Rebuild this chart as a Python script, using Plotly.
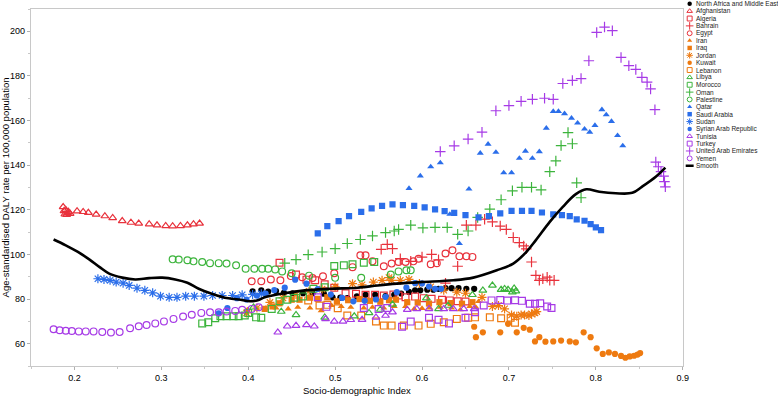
import plotly.graph_objects as go

RED = "#E8323C"
ORANGE = "#EE7A10"
GREEN = "#3CB43C"
BLUE = "#2B6EEA"
PURPLE = "#A63AE6"
BLACK = "#000000"

# ---------------- data ----------------
nam_x = [0.405,0.415,0.423,0.432,0.441,0.451,0.463,0.474,0.487,0.497,0.506,0.514,0.525,0.535,0.546,0.558,0.568,0.576,0.585,0.592,0.598,0.606,0.613,0.619,0.627,0.634,0.642,0.651,0.66]
nam_y = [83.5,83.9,83.4,83.6,82.8,82.6,82.6,82.6,82.4,80.8,80.6,80.4,81.2,81.9,81.9,81.3,81.9,82.5,83.2,83.9,83.9,84.2,84.2,84.6,84.9,84.9,84.9,84.6,84.6]

afg_x = [0.187,0.188,0.189,0.19,0.191,0.192,0.193,0.195,0.203,0.21,0.216,0.225,0.235,0.244,0.255,0.265,0.274,0.286,0.295,0.305,0.313,0.322,0.33,0.337,0.344]
afg_y = [121.3,119.5,118,120,117.8,118.6,119.2,118.3,119.4,119.1,118.7,117.9,117.2,116.4,115,114.3,113.9,113.6,113.1,112.8,112.7,112.8,113.1,113.6,113.9]

alg_x = [0.436,0.455,0.467,0.477,0.488,0.499,0.512,0.524,0.535,0.546,0.556,0.567,0.573,0.581,0.592,0.602,0.611,0.623,0.632,0.641,0.65]
alg_y = [96.3,91,88.7,88.4,86.6,85.1,82.6,82.4,81.9,81.9,81.6,82,81.6,80.8,81.1,80.4,80.1,79.7,79.4,79,78.9]

bhr_x = [0.553,0.56,0.566,0.575,0.587,0.6,0.611,0.619,0.627,0.641,0.651,0.662,0.672,0.681,0.69,0.697,0.705,0.712,0.717,0.72,0.726,0.731,0.735,0.739,0.744,0.747,0.752]
bhr_y = [102.3,104.5,102.6,98.1,96.9,98.8,100,97.6,87.1,94.7,113.1,113.1,115.8,114.6,112.7,111.2,107.6,105.3,103.8,102.5,96.6,90.6,88.4,89.1,89.8,88.4,88.4]

egy_x = [0.404,0.415,0.426,0.437,0.449,0.462,0.474,0.486,0.499,0.52,0.529,0.535,0.543,0.556,0.565,0.573,0.581,0.59,0.596,0.61,0.617,0.627,0.635,0.643,0.651,0.658]
egy_y = [88,88,88.8,88.4,90.3,89.8,89.4,90.2,91.6,94.3,99.6,99.6,96.9,94.7,95.9,96.6,96.6,96.9,98.1,95.6,96.1,100.4,101.9,99.2,99.2,98.9]

irn_x = [0.399,0.41,0.42,0.432,0.446,0.457,0.471,0.484,0.496,0.507,0.518,0.533,0.543,0.556,0.568,0.581,0.591,0.6,0.609,0.621,0.634,0.644,0.655,0.662,0.665]
irn_y = [75.2,75.5,75.8,76,75.6,76.3,76,74.8,77.1,76.7,76.3,76,76.3,76,76.7,76.7,75.6,75.8,76,76.3,76,75.2,76.7,76.3,78.9]

irq_x = [0.419,0.428,0.436,0.45,0.459,0.471,0.48,0.491,0.502,0.515,0.528,0.54,0.552,0.562,0.57,0.583,0.595,0.608,0.62,0.633,0.646,0.658]
irq_y = [75.6,76.7,78.1,79.7,79.7,80.6,80.1,80.8,79,79.5,80,79.2,78.8,79.5,79.7,78.6,78.4,78,78.6,78.2,77.9,78.6]

jor_x = [0.398,0.41,0.425,0.44,0.455,0.47,0.485,0.5,0.52,0.531,0.544,0.554,0.562,0.565,0.575,0.585,0.597,0.61,0.625,0.64,0.65,0.669,0.681,0.688,0.695,0.703,0.709,0.714,0.718,0.723,0.726,0.73,0.732]
jor_y = [73.8,76,78.5,80.5,82,83.5,84.5,85.5,86.9,86.4,87.6,88.4,89.6,88.4,88.4,88.8,87,85.5,84,83.1,82.6,80.8,76.7,77.1,75.6,72.9,72.3,72.9,72.9,72.6,73.4,73.8,74.4]

kwt_x = [0.66,0.662,0.67,0.69,0.699,0.709,0.717,0.724,0.73,0.735,0.742,0.751,0.76,0.77,0.777,0.786,0.794,0.801,0.808,0.815,0.822,0.829,0.834,0.839,0.844,0.848,0.851]
kwt_y = [67.6,62.9,65.1,65.1,68.9,65.1,67.1,66.3,61,62.9,60.9,61,61.4,61,60.6,65.1,62.9,57.9,55.4,56.1,55.4,54.5,53.7,54.3,54.6,55.1,55.8]

lbn_x = [0.469,0.482,0.491,0.503,0.514,0.53,0.547,0.556,0.565,0.579,0.596,0.61,0.625,0.64,0.653,0.661,0.678,0.691,0.702,0.707]
lbn_y = [79.4,77.1,77.4,75.9,72.6,72.6,70,68.1,68.1,68.1,68.1,68.9,69.6,71.1,71.6,71.8,71.8,71.4,71.6,69.4]

lby_x = [0.406,0.438,0.455,0.488,0.522,0.539,0.552,0.566,0.605,0.619,0.63,0.658,0.67,0.681,0.691,0.695,0.699,0.704,0.706,0.708]
lby_y = [76.3,74.4,72.9,71.8,72.3,73.8,75.3,77.6,80.4,75.6,77.1,81.9,83.9,86.1,84.2,84.6,84.2,83.1,84.8,83.5]

mar_x = [0.347,0.354,0.362,0.368,0.375,0.383,0.389,0.396,0.4,0.409,0.415,0.427,0.436,0.445,0.453,0.463,0.475,0.488,0.499,0.51,0.52,0.533,0.545]
mar_y = [69.1,69.6,71.4,72.3,72.3,72.3,72.3,72.6,73.8,71.8,71.6,75.6,79,79.7,80.6,81.2,84.6,85.3,94.8,95.1,95.6,96.3,96.6]

omn_x = [0.442,0.455,0.469,0.485,0.5,0.514,0.529,0.543,0.558,0.568,0.573,0.587,0.601,0.615,0.629,0.641,0.653,0.664,0.678,0.691,0.704,0.715,0.726,0.737,0.747,0.754,0.76,0.768,0.773,0.778,0.783]
omn_y = [96.1,97.7,99.9,101.1,102.6,104.9,106.7,108.3,109.8,110.5,111.2,113.1,111.9,112.1,112.1,109,110.5,116.6,120.3,124.5,128.5,130.1,130.1,128.9,137.1,141.9,148.8,154.6,149.6,132.1,125.4]

pse_x = [0.313,0.32,0.33,0.337,0.347,0.356,0.366,0.375,0.386,0.397,0.407,0.416,0.423,0.431,0.439,0.45,0.47,0.5,0.53,0.564,0.573,0.582,0.587]
pse_y = [97.8,97.7,97.4,96.9,96.6,96.1,96.1,95.9,95.1,93.6,93.6,93.6,93.6,93.3,92.4,91.6,90.5,89.5,89.5,91,92.4,92.9,92.9]

qat_x = [0.585,0.598,0.61,0.621,0.632,0.643,0.654,0.667,0.676,0.685,0.694,0.703,0.712,0.719,0.727,0.735,0.743,0.751,0.757,0.764,0.772,0.779,0.787,0.793,0.799,0.807,0.812,0.818,0.825,0.831]
qat_y = [129.6,135.2,139.3,141.1,118,104.9,129.3,145.4,149.4,145.8,136.6,136.6,143.1,146.3,143.1,146.1,156.6,164.1,164.1,163.1,161.1,158.9,156.2,154.8,157.8,164.9,162.6,159.6,153.3,148.7]

sau_x = [0.48,0.491,0.504,0.516,0.53,0.542,0.554,0.566,0.578,0.591,0.603,0.615,0.626,0.637,0.65,0.665,0.677,0.69,0.703,0.715,0.726,0.738,0.751,0.761,0.77,0.778,0.787,0.794,0.8,0.806]
sau_y = [109.4,112.7,114.9,117.2,119.1,120.6,121.8,122.4,122.1,121.8,121.1,120.2,119.4,118.6,117.6,116.6,117.2,118.4,119.5,119.5,119.5,118.8,118,117.6,117.2,115.7,115.1,113.6,112.1,110.9]

sdn_x = [0.227,0.234,0.241,0.248,0.256,0.263,0.272,0.281,0.29,0.299,0.309,0.318,0.328,0.338,0.349,0.359,0.37,0.382,0.393,0.405,0.415]
sdn_y = [89.1,88.8,88.4,87.6,87.1,86.1,84.9,83.9,82.8,81.3,80.8,80.8,81.3,81.3,81.3,81.6,81.6,81.6,81.9,82.1,82.4]

syr_x = [0.366,0.376,0.387,0.398,0.41,0.42,0.43,0.442,0.454,0.467,0.48,0.495,0.508,0.521,0.534,0.547,0.558,0.571,0.582,0.592,0.6,0.608,0.615,0.622]
syr_y = [73.6,76,80.4,79.8,81.5,82.5,84,85.1,88.7,86.9,84.5,82,80.5,79,79.2,79.8,81,83.1,85.1,87.1,87,85.6,84.6,84.6]

tun_x = [0.434,0.445,0.455,0.467,0.476,0.489,0.499,0.509,0.518,0.531,0.547,0.558,0.566,0.583,0.594,0.608,0.625,0.636,0.648,0.66]
tun_y = [65.1,67.8,68.1,68.4,67.8,71.1,70,70,70.7,70.8,71.8,72.6,74.1,75.2,75.6,75.6,75.6,75.6,75.6,75.6]

tur_x = [0.48,0.49,0.533,0.55,0.56,0.577,0.587,0.608,0.619,0.631,0.65,0.661,0.671,0.68,0.69,0.698,0.707,0.715,0.724,0.73,0.736,0.744,0.749]
tur_y = [80.8,76.5,76,75.5,76,67.6,69.9,71.6,70.7,69.1,71.6,74.1,77.1,79.4,79.6,79.3,79.5,79.2,77.9,77.9,78.1,76.7,76]

are_x = [0.621,0.637,0.653,0.669,0.685,0.7,0.714,0.727,0.741,0.751,0.762,0.773,0.783,0.792,0.801,0.81,0.819,0.829,0.838,0.846,0.853,0.859,0.863,0.868,0.869,0.872,0.875,0.878,0.879,0.88]
are_y = [146.1,148.7,151.7,154.8,164.4,166.7,168.6,169.5,170,169.5,176.6,178,178.8,186.8,199.5,201.9,200.3,188.3,184.6,182.9,179.4,177.2,174.2,164.9,141.4,139.3,137.1,135.1,132.6,130.3]

yem_x = [0.176,0.183,0.19,0.197,0.205,0.213,0.222,0.232,0.242,0.252,0.264,0.274,0.283,0.293,0.303,0.314,0.325,0.335,0.346,0.356,0.366,0.375,0.385,0.393,0.404,0.412]
yem_y = [66.5,66,65.8,65.7,65.5,65.5,65.5,65.2,65,65.2,66.9,67.8,68.4,69.1,70,71.1,72.2,73,73.8,74.1,74.1,74.4,74.7,75.2,75.6,76.3]

smooth_x = [0.176,0.19,0.204,0.217,0.229,0.24,0.255,0.27,0.286,0.301,0.316,0.33,0.343,0.358,0.373,0.389,0.402,0.411,0.419,0.438,0.465,0.495,0.526,0.549,0.571,0.598,0.636,0.659,0.686,0.705,0.72,0.731,0.747,0.762,0.777,0.789,0.804,0.823,0.842,0.853,0.869,0.88]
smooth_y = [106.7,104.1,101.1,97.8,94.3,91.4,89.6,88.8,89.4,89.6,88.8,87.3,84.6,82.4,80.6,79.8,79,79.5,80.8,82.4,83.9,84.6,85.1,86.1,86.9,87.6,88.4,89.6,92.9,95.9,101.1,106.4,114.6,121.3,127,129.2,128.1,127.4,127.6,130.3,134.8,138.9]

x_ticks = [0.2, 0.3, 0.4, 0.5, 0.6, 0.7, 0.8, 0.9]
y_ticks = [60, 80, 100, 120, 140, 160, 180, 200]

series = [
    ("North Africa and Middle East", nam_x, nam_y, "circle", BLACK),
    ("Afghanistan", afg_x, afg_y, "triangle-up-open", RED),
    ("Algeria", alg_x, alg_y, "square-open", RED),
    ("Bahrain", bhr_x, bhr_y, "cross-thin-open", RED),
    ("Egypt", egy_x, egy_y, "circle-open", RED),
    ("Iran", irn_x, irn_y, "triangle-up", ORANGE),
    ("Iraq", irq_x, irq_y, "square", ORANGE),
    ("Jordan", jor_x, jor_y, "asterisk-open", ORANGE),
    ("Kuwait", kwt_x, kwt_y, "circle", ORANGE),
    ("Lebanon", lbn_x, lbn_y, "square-open", ORANGE),
    ("Libya", lby_x, lby_y, "triangle-up-open", GREEN),
    ("Morocco", mar_x, mar_y, "square-open", GREEN),
    ("Oman", omn_x, omn_y, "cross-thin-open", GREEN),
    ("Palestine", pse_x, pse_y, "circle-open", GREEN),
    ("Qatar", qat_x, qat_y, "triangle-up", BLUE),
    ("Saudi Arabia", sau_x, sau_y, "square", BLUE),
    ("Sudan", sdn_x, sdn_y, "asterisk-open", BLUE),
    ("Syrian Arab Republic", syr_x, syr_y, "circle", BLUE),
    ("Tunisia", tun_x, tun_y, "triangle-up-open", PURPLE),
    ("Turkey", tur_x, tur_y, "square-open", PURPLE),
    ("United Arab Emirates", are_x, are_y, "cross-thin-open", PURPLE),
    ("Yemen", yem_x, yem_y, "circle-open", PURPLE),
]

FONT = "Liberation Sans"
W, H = 778, 397
ML, MT, MB = 31, 0, 31
PLOT_RIGHT = 688   # px where main plot frame ends
PLOT_TOP = 9       # px where main plot frame starts
plot_w = W - ML
plot_h = H - MT - MB
main_xdom = [0, (PLOT_RIGHT - ML) / plot_w]
main_ydom = [0, (plot_h - PLOT_TOP) / plot_h]

fig = go.Figure()


def msize(sym):
    if sym.startswith("cross") or sym.startswith("asterisk"):
        return 7.5
    if sym.endswith("-open"):
        return 6.8
    return 6.2


for name, xs, ys, sym, col in series:
    fig.add_trace(go.Scatter(
        x=xs, y=ys, mode="markers", name=name, showlegend=False,
        marker=dict(symbol=sym, size=msize(sym), color=col,
                    line=dict(color=col, width=1.2 if sym.endswith("-open") else 0)),
    ))

fig.add_trace(go.Scatter(
    x=smooth_x, y=smooth_y, mode="lines", name="Smooth", showlegend=False,
    line=dict(color=BLACK, width=2.6, shape="spline", smoothing=1.0),
))

# ---------- custom compact legend (pixel-coordinate helper axes) ----------
LEG_Y0, LEG_Y1 = 3.8, 165.7
LEG_DY = (LEG_Y1 - LEG_Y0) / len(series)
LEG_MX, LEG_TX = 695, 700
for i, (name, xs, ys, sym, col) in enumerate(series):
    yy = LEG_Y0 + i * LEG_DY
    fig.add_trace(go.Scatter(
        x=[LEG_MX], y=[yy], mode="markers", xaxis="x2", yaxis="y2", showlegend=False,
        cliponaxis=False, hoverinfo="skip",
        marker=dict(symbol=sym, size=msize(sym) * 0.72, color=col,
                    line=dict(color=col, width=1.0 if sym.endswith("-open") else 0)),
    ))
    fig.add_annotation(x=LEG_TX, y=yy, xref="x2", yref="y2", text=name, showarrow=False,
                       xanchor="left", yanchor="middle", font=dict(family=FONT, size=6.5, color="#222222"),
                       borderpad=0)
ys_smooth = LEG_Y0 + len(series) * LEG_DY
fig.add_trace(go.Scatter(
    x=[LEG_MX - 4, LEG_MX + 4], y=[ys_smooth, ys_smooth], mode="lines", xaxis="x2", yaxis="y2",
    showlegend=False, cliponaxis=False, hoverinfo="skip", line=dict(color=BLACK, width=2.5),
))
fig.add_annotation(x=LEG_TX, y=ys_smooth, xref="x2", yref="y2", text="Smooth", showarrow=False,
                   xanchor="left", yanchor="middle", font=dict(family=FONT, size=6.5, color="#222222"),
                   borderpad=0)

axis_common = dict(
    showline=True, mirror=True, linecolor="#C8C8C8", linewidth=1.2,
    ticks="outside", ticklen=3, tickcolor="#B0B0B0", showgrid=False, zeroline=False,
    tickfont=dict(family=FONT, size=9, color="#000000"),
)

fig.update_layout(
    width=W, height=H,
    margin=dict(l=ML, r=0, t=MT, b=MB, pad=0),
    paper_bgcolor="white", plot_bgcolor="white",
    showlegend=False,
    xaxis=dict(range=[0.15, 0.9], domain=main_xdom, tickvals=x_ticks,
               ticktext=[f"{v:g}" for v in x_ticks],
               minor=dict(ticks="outside", ticklen=2, tickcolor="#C8C8C8", dtick=0.05),
               title=dict(text="Socio-demographic Index", font=dict(family=FONT, size=9.5, color="#000000"), standoff=5),
               **axis_common),
    yaxis=dict(range=[50, 210], domain=main_ydom, tickvals=y_ticks,
               minor=dict(ticks="outside", ticklen=2, tickcolor="#C8C8C8", dtick=10),
               title=dict(text="Age-standardised DALY rate per 100,000 population",
                          font=dict(family=FONT, size=9.5, color="#000000"), standoff=2),
               **axis_common),
    xaxis2=dict(domain=[main_xdom[1], 1], range=[PLOT_RIGHT, W], anchor="y2", visible=False, fixedrange=True),
    yaxis2=dict(domain=[0, 1], range=[plot_h, 0], anchor="x2", visible=False, fixedrange=True),
)

fig.write_html(
    "out.html",
    config={"displayModeBar": False},
    post_script="document.body.style.margin='0';document.body.style.padding='0';document.body.style.overflow='hidden';",
)
